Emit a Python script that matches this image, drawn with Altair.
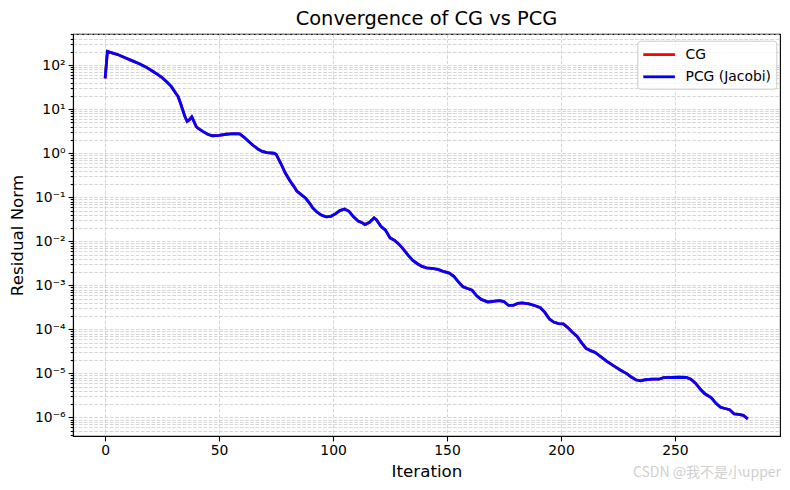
import altair as alt
import pandas as pd

# ---- data ----
iterations = [0, 1, 3, 6, 9, 12, 15, 18, 21, 23, 25, 27, 29, 31, 32, 33, 34, 35, 36, 37,
              38, 39, 40, 41, 43, 45, 47, 50, 53, 55, 57, 59, 61, 63, 65, 67, 69, 71, 74, 75,
              77, 79, 81, 83, 84, 86, 88, 90, 91, 93, 95, 97, 99, 101, 103, 105, 107, 109, 111, 113,
              114, 116, 118, 119, 121, 123, 125, 127, 129, 131, 133, 135, 137, 139, 141, 144, 146, 148, 151, 153,
              155, 157, 159, 161, 163, 165, 168, 171, 173, 175, 177, 179, 181, 183, 186, 189, 191, 193, 195, 197,
              199, 201, 203, 205, 207, 209, 211, 213, 215, 217, 220, 223, 226, 229, 231, 233, 235, 237, 240, 243,
              245, 249, 252, 255, 257, 259, 261, 263, 266, 268, 270, 272, 274, 276, 278, 280, 282]
residuals = [50, 205, 190, 170, 146, 125, 108, 90, 72, 62, 52, 42, 33, 23, 19.5, 14, 9.8, 6.8, 5.3, 5.8,
             6.7, 5.2, 4.0, 3.6, 3.1, 2.7, 2.5, 2.55, 2.7, 2.75, 2.8, 2.75, 2.3, 1.85, 1.5, 1.25, 1.1, 1.03, 1.0, 0.95,
             0.6, 0.36, 0.24, 0.17, 0.14, 0.115, 0.095, 0.07, 0.058, 0.046, 0.039, 0.036, 0.037, 0.042, 0.05, 0.054, 0.048, 0.036, 0.029, 0.026,
             0.024, 0.027, 0.034, 0.031, 0.022, 0.018, 0.012, 0.0105, 0.0085, 0.0065, 0.0048, 0.0037, 0.0031, 0.0027, 0.0025, 0.0024, 0.0023, 0.0021, 0.0019, 0.0016,
             0.0012, 0.00093, 0.00085, 0.00078, 0.00058, 0.00048, 0.00042, 0.00044, 0.00045, 0.00043, 0.00035, 0.00035, 0.00039, 0.00040, 0.00038, 0.00034, 0.00031, 0.00024, 0.00017, 0.000145,
             0.000135, 0.000134, 0.00011, 0.000086, 0.00007, 0.00005, 0.000037, 0.000033, 0.00003, 0.000025, 0.000019, 0.000015, 0.000012, 0.0000098, 0.0000082, 0.0000071, 0.0000068, 0.0000072, 0.0000074, 0.0000074,
             0.000008, 0.0000081, 0.0000082, 0.0000081, 0.0000074, 0.000006, 0.0000045, 0.0000035, 0.0000028, 0.0000021, 0.0000017, 0.0000016, 0.0000015, 0.0000012, 0.00000118, 0.00000112, 0.00000093]
methods = ["CG", "PCG (Jacobi)"]
colors = ["#ff0000", "#0000ff"]
x_ticks = [0, 50, 100, 150, 200, 250]
x_domain = [-14.1, 296.1]
y_domain = [3.8e-7, 510]
y_labels = ["10⁻⁶", "10⁻⁵", "10⁻⁴", "10⁻³", "10⁻²", "10⁻¹", "10⁰", "10¹", "10²"]
title_text = ["Convergence of CG vs PCG"]
watermark = ["CSDN @我不是小upper"]

y_ticks = [m * 10.0 ** e for e in range(-7, 3) for m in range(1, 10)
           if y_domain[0] <= m * 10.0 ** e <= y_domain[1]]

rows = []
for meth in methods:
    for it, r in zip(iterations, residuals):
        rows.append({"iteration": it, "residual": r, "method": meth})
df = pd.DataFrame(rows)

FONT = "DejaVu Sans"
W, H = 707, 402
LOGV = "log(datum.value)/LN10"
major_test = f"abs({LOGV} - round({LOGV})) < 0.001"
label_arr = "[" + ",".join("'" + s + "'" for s in y_labels) + "]"
label_expr = f"{major_test} ? {label_arr}[round({LOGV})+6] : ''"

grid_style = dict(grid=True, gridColor="#c4c4c4", gridDash=[3.6, 1.6], gridWidth=0.7)

lines = alt.Chart(df).mark_line(strokeWidth=2.8, clip=True).encode(
    x=alt.X("iteration:Q",
            scale=alt.Scale(domain=x_domain, nice=False, zero=False),
            axis=alt.Axis(values=x_ticks, title="Iteration", format="d",
                          tickSize=4.9, labelPadding=3, titlePadding=6,
                          **grid_style)),
    y=alt.Y("residual:Q",
            scale=alt.Scale(type="log", domain=y_domain, nice=False),
            axis=alt.Axis(values=y_ticks, title="Residual Norm",
                          labelExpr=label_expr, labelPadding=3, titlePadding=8,
                          tickSize={"condition": {"test": major_test, "value": 4.9}, "value": 2.8},
                          **grid_style)),
    color=alt.Color("method:N",
                    scale=alt.Scale(domain=methods, range=colors),
                    legend=alt.Legend(title=None, orient="none", legendX=564.3, legendY=6.7,
                                      symbolType="M-1,0H3", symbolSize=250, symbolStrokeWidth=2.8,
                                      labelOffset=24.8, labelFontSize=13.9, labelFont=FONT,
                                      labelColor="black",
                                      padding=4.4, rowPadding=5.2,
                                      fillColor="rgba(255,255,255,0.8)", strokeColor="#cccccc",
                                      cornerRadius=3)),
)

title = alt.Chart(pd.DataFrame({"t": title_text})).mark_text(
    align="center", baseline="alphabetic", fontSize=19.4, font=FONT, color="black"
).encode(text="t:N", x=alt.value(W / 2), y=alt.value(-9))

wm = alt.Chart(pd.DataFrame({"t": watermark})).mark_text(
    align="right", baseline="middle", fontSize=14, font="Noto Sans CJK SC", color="#cfcfcf"
).encode(text="t:N", x=alt.value(708), y=alt.value(439))

chart = alt.layer(lines, title, wm).properties(
    width=W, height=H,
    padding={"left": 65, "top": 26, "right": 2, "bottom": 46},
    autosize=alt.AutoSizeParams(type="none"),
).configure(
    font=FONT,
).configure_axis(
    labelFont=FONT, labelFontSize=13.9, labelColor="black",
    titleFont=FONT, titleFontSize=16.7, titleFontWeight="normal", titleColor="black",
    domainColor="black", domainWidth=1.1, tickColor="black", tickWidth=1.1,
).configure_view(
    stroke="black", strokeWidth=1.1,
)

chart.save("out.html", embed_options={"renderer": "svg", "actions": False})
